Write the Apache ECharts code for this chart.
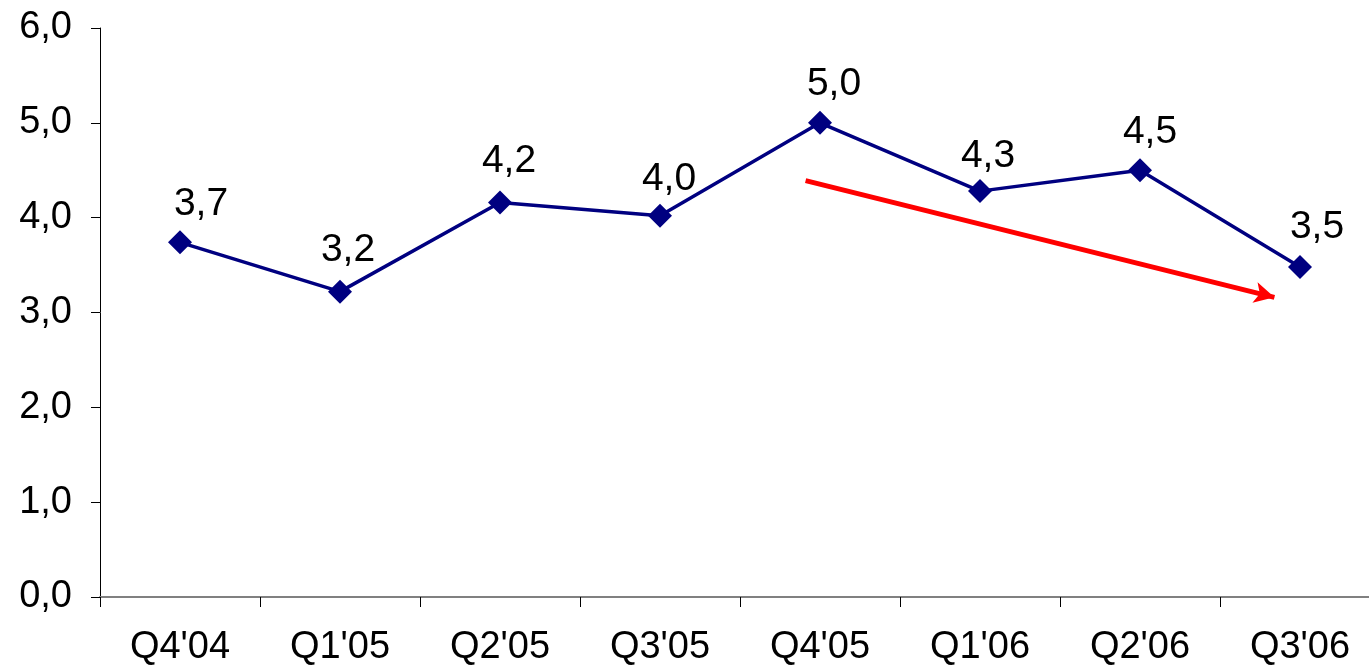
<!DOCTYPE html>
<html>
<head>
<meta charset="utf-8">
<script src="https://cdn.jsdelivr.net/npm/echarts@6/dist/echarts.min.js"></script>
<style>
  html, body { margin: 0; padding: 0; background: #fff; overflow: hidden; }
  #chart { width: 1400px; height: 671px; }
</style>
</head>
<body>
<div id="chart"></div>
<script>
// Quarterly values
const quarters = ["Q4'04", "Q1'05", "Q2'05", "Q3'05", "Q4'05", "Q1'06", "Q2'06", "Q3'06"];
const values = [3.74, 3.22, 4.16, 4.02, 5.0, 4.28, 4.5, 3.48];
const yTicks = { min: 0, max: 6, interval: 1 };
// Trend arrow, in (category position, value) space
const trendStart = [3.91, 4.39];
const trendEnd = [6.84, 3.16];

// Per-point nudges for the value labels, in pixels
const labelNudges = [[21, 0], [8, -3], [9, -3], [9, 2], [14, 0], [8, 4], [10, 0], [17, -1]];

const fmt = v => v.toFixed(1).replace('.', ',');
const font = 'Liberation Sans, Arial, sans-serif';

const pointData = values.map((v, i) => ({
  value: v,
  label: { offset: labelNudges[i] }
}));

const chart = echarts.init(document.getElementById('chart'), null, { renderer: 'canvas' });
chart.setOption({
  animation: false,
  backgroundColor: '#fff',
  grid: { left: 100, top: 28, bottom: 74, width: 1280, containLabel: false },
  xAxis: [{
    type: 'category',
    data: quarters,
    boundaryGap: true,
    axisLine: { onZero: false, lineStyle: { color: '#808080', width: 2 } },
    axisTick: { show: true, length: 10, lineStyle: { color: '#000', width: 1 } },
    axisLabel: { color: '#000', fontSize: 38, fontFamily: font, margin: 32 },
    splitLine: { show: false }
  }, {
    type: 'value',
    min: -0.5,
    max: quarters.length - 0.5,
    show: false
  }],
  yAxis: {
    type: 'value',
    min: yTicks.min,
    max: yTicks.max,
    interval: yTicks.interval,
    axisLine: { show: true, onZero: false, lineStyle: { color: '#000', width: 1 } },
    axisTick: { show: true, length: 9, lineStyle: { color: '#000' } },
    axisLabel: { color: '#000', fontSize: 38, fontFamily: font, margin: 28, formatter: fmt },
    splitLine: { show: false }
  },
  series: [{
    type: 'line',
    data: pointData,
    symbol: 'diamond',
    symbolSize: 24,
    itemStyle: { color: '#000080' },
    lineStyle: { color: '#000080', width: 3.5 },
    label: {
      show: true,
      position: 'top',
      distance: 7,
      color: '#000',
      fontSize: 39,
      fontFamily: font,
      formatter: p => fmt(p.value)
    },
    z: 3
  }, {
    type: 'line',
    xAxisIndex: 1,
    data: [trendStart, trendEnd],
    showSymbol: false,
    symbol: 'none',
    lineStyle: { width: 0, opacity: 0 },
    silent: true,
    markLine: {
      silent: true,
      symbol: ['none', 'arrow'],
      symbolSize: [16, 20],
      label: { show: false },
      lineStyle: { color: '#ff0000', width: 5, type: 'solid' },
      data: [[{ coord: trendStart }, { coord: trendEnd }]]
    },
    z: 2
  }]
});
</script>
</body>
</html>
